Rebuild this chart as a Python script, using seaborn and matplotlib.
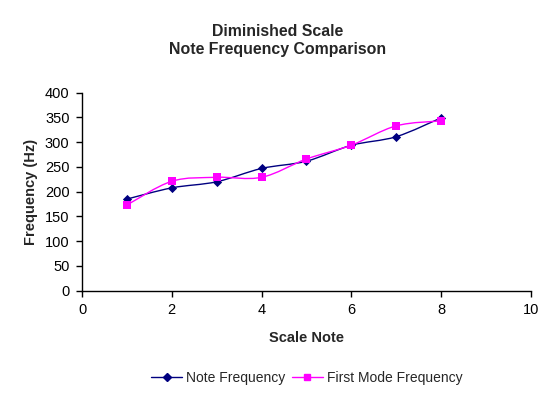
import numpy as np
import matplotlib
matplotlib.use("Agg")
import matplotlib.pyplot as plt
from matplotlib.path import Path
from matplotlib.patches import PathPatch
from matplotlib.lines import Line2D
import seaborn as sns

scale_note = [1, 2, 3, 4, 5, 6, 7, 8]
note_freq = [185.0, 207.7, 220.0, 246.9, 261.6, 293.7, 311.1, 349.2]
first_mode_freq = [173, 221, 229, 229, 266, 294, 333, 343]

navy = "#000080"
magenta = "#FF00FF"


def smooth_path(x, y):
    # Excel-like smoothed line: cubic bezier segments, catmull-rom style handles
    pts = np.column_stack([x, y]).astype(float)
    n = len(pts)
    verts = [pts[0]]
    codes = [Path.MOVETO]
    for i in range(n - 1):
        p0 = pts[i - 1] if i > 0 else pts[i]
        p1 = pts[i]
        p2 = pts[i + 1]
        p3 = pts[i + 2] if i + 2 < n else pts[i + 1]
        c1 = p1 + (p2 - p0) / 6.0
        c2 = p2 - (p3 - p1) / 6.0
        verts += [c1, c2, p2]
        codes += [Path.CURVE4] * 3
    return Path(verts, codes)


sns.set_style("white")
plt.rcParams['font.family'] = ['Liberation Sans', 'DejaVu Sans']

fig = plt.figure(figsize=(5.56, 3.96), dpi=100)
ax = fig.add_axes([0.1475, 0.266, 0.8075, 0.500])

ax.add_patch(PathPatch(smooth_path(scale_note, note_freq), fill=False,
                       edgecolor=navy, lw=1.0, zorder=2))
ax.add_patch(PathPatch(smooth_path(scale_note, first_mode_freq), fill=False,
                       edgecolor=magenta, lw=1.0, zorder=2))

sns.scatterplot(x=scale_note, y=note_freq, marker='D', color=navy, s=22,
                edgecolor=navy, linewidth=0, ax=ax, zorder=3, legend=False)
sns.scatterplot(x=scale_note, y=first_mode_freq, marker='s', color=magenta, s=36,
                edgecolor=magenta, linewidth=0, ax=ax, zorder=3, legend=False)

ax.set_xlim(0, 10)
ax.set_ylim(0, 400)
ax.set_xticks(range(0, 11, 2))
ax.set_yticks(range(0, 401, 50))
ax.tick_params(axis='both', direction='out', length=4, width=1, colors='black',
               labelsize=10.5, bottom=True, left=True, pad=5)

for side in ['top', 'right']:
    ax.spines[side].set_visible(False)
for side in ['left', 'bottom']:
    ax.spines[side].set_color('black')
    ax.spines[side].set_linewidth(1)

ax.set_xlabel('Scale Note', fontsize=10.5, fontweight='bold', labelpad=10)
ax.set_ylabel('Frequency (Hz)', fontsize=10.5, fontweight='bold', labelpad=5)
fig.suptitle('Diminished Scale\nNote Frequency Comparison', x=0.5, y=0.94,
             fontsize=11.4, fontweight='bold', linespacing=1.3)

handles = [
    Line2D([0], [0], color=navy, lw=1, marker='D', markersize=4, label='Note Frequency'),
    Line2D([0], [0], color=magenta, lw=1, marker='s', markersize=5, label='First Mode Frequency'),
]
fig.legend(handles=handles, loc='center', bbox_to_anchor=(0.552, 0.045), ncol=2,
           frameon=False, fontsize=10, handlelength=2.2, columnspacing=0.5,
           handletextpad=0.3)

fig.savefig('out.png', dpi=100)
